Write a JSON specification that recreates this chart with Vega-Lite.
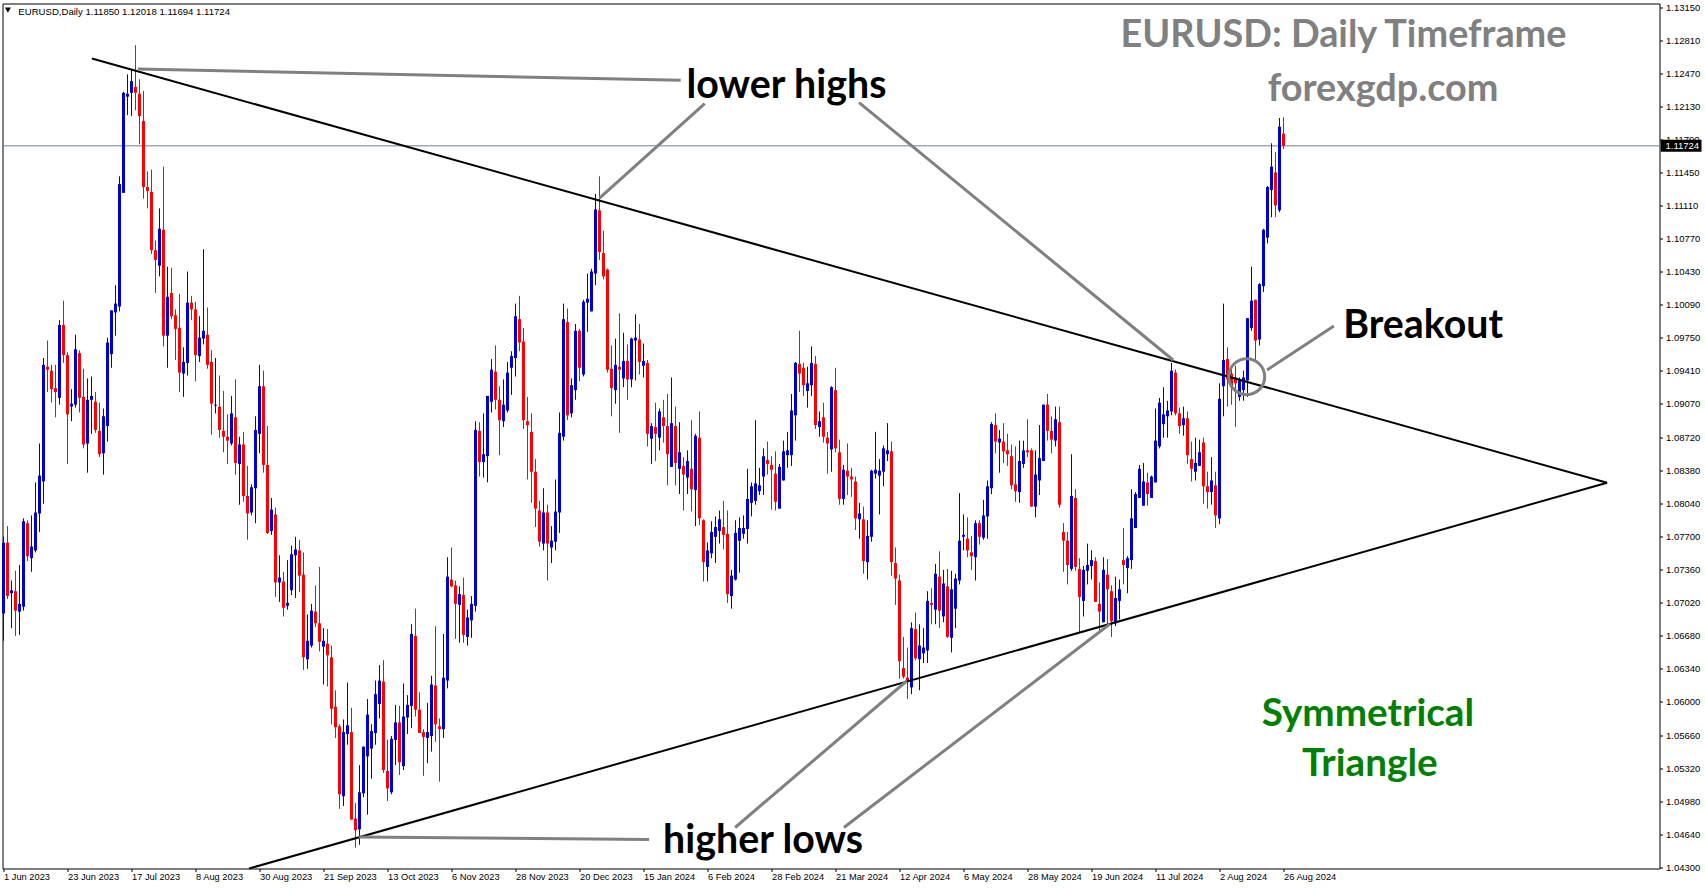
{
"$schema":"https://vega.github.io/schema/vega-lite/v6.json",
"width":1657,"height":865,"autosize":{"type":"none"},
"padding":{"left":2.5,"top":3.5,"right":46,"bottom":19},
"background":"white",
"config":{"view":{"stroke":"#000","strokeWidth":1}},
"datasets":{
"candles":[
{"i":0,"o":1.0691,"h":1.0770,"l":1.0663,"c":1.0764},{"i":1,"o":1.0764,"h":1.0781,"l":1.0706,"c":1.0709},{"i":2,"o":1.0712,"h":1.0725,"l":1.0676,"c":1.0715},{"i":3,"o":1.0714,"h":1.0735,"l":1.0668,"c":1.0694},{"i":4,"o":1.0693,"h":1.0741,"l":1.0669,"c":1.0701},{"i":5,"o":1.0698,"h":1.0789,"l":1.0694,"c":1.0786},{"i":6,"o":1.0784,"h":1.0787,"l":1.0745,"c":1.0750},{"i":7,"o":1.0748,"h":1.0792,"l":1.0734,"c":1.0760},{"i":8,"o":1.0756,"h":1.0826,"l":1.0754,"c":1.0795},{"i":9,"o":1.0794,"h":1.0866,"l":1.0775,"c":1.0833},
{"i":10,"o":1.0827,"h":1.0954,"l":1.0804,"c":1.0947},{"i":11,"o":1.0945,"h":1.0972,"l":1.0919,"c":1.0942},{"i":12,"o":1.0941,"h":1.0947,"l":1.0908,"c":1.0922},{"i":13,"o":1.0923,"h":1.0947,"l":1.0893,"c":1.0919},{"i":14,"o":1.0913,"h":1.0993,"l":1.0906,"c":1.0988},{"i":15,"o":1.0988,"h":1.1013,"l":1.0949,"c":1.0957},{"i":16,"o":1.0957,"h":1.0960,"l":1.0845,"c":1.0896},{"i":17,"o":1.0904,"h":1.0922,"l":1.0889,"c":1.0907},{"i":18,"o":1.0906,"h":1.0978,"l":1.0903,"c":1.0963},{"i":19,"o":1.0959,"h":1.0962,"l":1.0898,"c":1.0913},
{"i":20,"o":1.0914,"h":1.0943,"l":1.0861,"c":1.0865},{"i":21,"o":1.0866,"h":1.0933,"l":1.0836,"c":1.0911},{"i":22,"o":1.0911,"h":1.0935,"l":1.0876,"c":1.0915},{"i":23,"o":1.0909,"h":1.0919,"l":1.0877,"c":1.0880},{"i":24,"o":1.0879,"h":1.0908,"l":1.0852,"c":1.0855},{"i":25,"o":1.0856,"h":1.0902,"l":1.0834,"c":1.0894},{"i":26,"o":1.0884,"h":1.0975,"l":1.0868,"c":1.0970},{"i":27,"o":1.0958,"h":1.1003,"l":1.0944,"c":1.1003},{"i":28,"o":1.1001,"h":1.1029,"l":1.0977,"c":1.1010},{"i":29,"o":1.1007,"h":1.1141,"l":1.1002,"c":1.1133},
{"i":30,"o":1.1124,"h":1.1228,"l":1.1124,"c":1.1227},{"i":31,"o":1.1223,"h":1.1246,"l":1.1204,"c":1.1226},{"i":32,"o":1.1227,"h":1.1251,"l":1.1203,"c":1.1239},{"i":33,"o":1.1233,"h":1.1276,"l":1.1209,"c":1.1227},{"i":34,"o":1.1226,"h":1.1241,"l":1.1174,"c":1.1203},{"i":35,"o":1.1198,"h":1.1229,"l":1.1118,"c":1.1130},{"i":36,"o":1.1130,"h":1.1146,"l":1.1108,"c":1.1126},{"i":37,"o":1.1125,"h":1.1148,"l":1.1061,"c":1.1065},{"i":38,"o":1.1065,"h":1.1075,"l":1.1021,"c":1.1055},{"i":39,"o":1.1049,"h":1.1108,"l":1.1038,"c":1.1087},
{"i":40,"o":1.1086,"h":1.1151,"l":1.0966,"c":1.0977},{"i":41,"o":1.0977,"h":1.1048,"l":1.0944,"c":1.1017},{"i":42,"o":1.1021,"h":1.1047,"l":1.0994,"c":1.0997},{"i":43,"o":1.0998,"h":1.1004,"l":1.0952,"c":1.0984},{"i":44,"o":1.0985,"h":1.1020,"l":1.0919,"c":1.0939},{"i":45,"o":1.0938,"h":1.0965,"l":1.0914,"c":1.0950},{"i":46,"o":1.0949,"h":1.1043,"l":1.0936,"c":1.1011},{"i":47,"o":1.1011,"h":1.1018,"l":1.0993,"c":1.1004},{"i":48,"o":1.1004,"h":1.1012,"l":1.0930,"c":1.0957},{"i":49,"o":1.0956,"h":1.0997,"l":1.0950,"c":1.0975},
{"i":50,"o":1.0974,"h":1.1066,"l":1.0968,"c":1.0982},{"i":51,"o":1.0978,"h":1.1006,"l":1.0943,"c":1.0947},{"i":52,"o":1.0950,"h":1.0962,"l":1.0875,"c":1.0907},{"i":53,"o":1.0905,"h":1.0954,"l":1.0897,"c":1.0906},{"i":54,"o":1.0904,"h":1.0936,"l":1.0872,"c":1.0880},{"i":55,"o":1.0879,"h":1.0920,"l":1.0857,"c":1.0873},{"i":56,"o":1.0873,"h":1.0896,"l":1.0845,"c":1.0869},{"i":57,"o":1.0866,"h":1.0915,"l":1.0864,"c":1.0897},{"i":58,"o":1.0893,"h":1.0932,"l":1.0834,"c":1.0846},{"i":59,"o":1.0845,"h":1.0873,"l":1.0803,"c":1.0865},
{"i":60,"o":1.0865,"h":1.0878,"l":1.0806,"c":1.0812},{"i":61,"o":1.0812,"h":1.0843,"l":1.0767,"c":1.0794},{"i":62,"o":1.0795,"h":1.0824,"l":1.0792,"c":1.0821},{"i":63,"o":1.0820,"h":1.0894,"l":1.0784,"c":1.0880},{"i":64,"o":1.0876,"h":1.0947,"l":1.0856,"c":1.0925},{"i":65,"o":1.0925,"h":1.0941,"l":1.0836,"c":1.0844},{"i":66,"o":1.0844,"h":1.0884,"l":1.0773,"c":1.0774},{"i":67,"o":1.0776,"h":1.0810,"l":1.0772,"c":1.0798},{"i":68,"o":1.0793,"h":1.0800,"l":1.0708,"c":1.0723},{"i":69,"o":1.0723,"h":1.0751,"l":1.0703,"c":1.0728},
{"i":70,"o":1.0724,"h":1.0734,"l":1.0688,"c":1.0697},{"i":71,"o":1.0699,"h":1.0746,"l":1.0695,"c":1.0702},{"i":72,"o":1.0715,"h":1.0761,"l":1.0710,"c":1.0752},{"i":73,"o":1.0751,"h":1.0770,"l":1.0707,"c":1.0757},{"i":74,"o":1.0756,"h":1.0767,"l":1.0713,"c":1.0730},{"i":75,"o":1.0731,"h":1.0754,"l":1.0633,"c":1.0646},{"i":76,"o":1.0644,"h":1.0690,"l":1.0634,"c":1.0663},{"i":77,"o":1.0658,"h":1.0701,"l":1.0656,"c":1.0694},{"i":78,"o":1.0693,"h":1.0720,"l":1.0677,"c":1.0681},{"i":79,"o":1.0681,"h":1.0739,"l":1.0652,"c":1.0662},
{"i":80,"o":1.0657,"h":1.0676,"l":1.0618,"c":1.0663},{"i":81,"o":1.0660,"h":1.0675,"l":1.0616,"c":1.0648},{"i":82,"o":1.0646,"h":1.0658,"l":1.0577,"c":1.0593},{"i":83,"o":1.0595,"h":1.0612,"l":1.0563,"c":1.0574},{"i":84,"o":1.0575,"h":1.0577,"l":1.0490,"c":1.0505},{"i":85,"o":1.0503,"h":1.0582,"l":1.0493,"c":1.0569},{"i":86,"o":1.0567,"h":1.0620,"l":1.0556,"c":1.0576},{"i":87,"o":1.0569,"h":1.0594,"l":1.0479,"c":1.0479},{"i":88,"o":1.0480,"h":1.0496,"l":1.0450,"c":1.0468},{"i":89,"o":1.0469,"h":1.0535,"l":1.0453,"c":1.0507},
{"i":90,"o":1.0506,"h":1.0554,"l":1.0502,"c":1.0554},{"i":91,"o":1.0544,"h":1.0603,"l":1.0484,"c":1.0587},{"i":92,"o":1.0552,"h":1.0577,"l":1.0521,"c":1.0570},{"i":93,"o":1.0568,"h":1.0622,"l":1.0556,"c":1.0608},{"i":94,"o":1.0598,"h":1.0638,"l":1.0583,"c":1.0622},{"i":95,"o":1.0621,"h":1.0643,"l":1.0527,"c":1.0530},{"i":96,"o":1.0529,"h":1.0561,"l":1.0498,"c":1.0511},{"i":97,"o":1.0507,"h":1.0565,"l":1.0505,"c":1.0562},{"i":98,"o":1.0561,"h":1.0597,"l":1.0535,"c":1.0579},{"i":99,"o":1.0579,"h":1.0596,"l":1.0525,"c":1.0538},
{"i":100,"o":1.0534,"h":1.0619,"l":1.0530,"c":1.0585},{"i":101,"o":1.0584,"h":1.0607,"l":1.0567,"c":1.0597},{"i":102,"o":1.0596,"h":1.0680,"l":1.0573,"c":1.0670},{"i":103,"o":1.0668,"h":1.0696,"l":1.0585,"c":1.0592},{"i":104,"o":1.0592,"h":1.0610,"l":1.0568,"c":1.0568},{"i":105,"o":1.0569,"h":1.0572,"l":1.0524,"c":1.0564},{"i":106,"o":1.0563,"h":1.0599,"l":1.0537,"c":1.0569},{"i":107,"o":1.0565,"h":1.0627,"l":1.0549,"c":1.0618},{"i":108,"o":1.0617,"h":1.0678,"l":1.0559,"c":1.0577},{"i":109,"o":1.0575,"h":1.0583,"l":1.0518,"c":1.0572},
{"i":110,"o":1.0572,"h":1.0670,"l":1.0563,"c":1.0625},{"i":111,"o":1.0622,"h":1.0749,"l":1.0614,"c":1.0729},{"i":112,"o":1.0726,"h":1.0759,"l":1.0718,"c":1.0719},{"i":113,"o":1.0720,"h":1.0725,"l":1.0665,"c":1.0701},{"i":114,"o":1.0700,"h":1.0719,"l":1.0661,"c":1.0711},{"i":115,"o":1.0710,"h":1.0728,"l":1.0661,"c":1.0669},{"i":116,"o":1.0667,"h":1.0695,"l":1.0658,"c":1.0687},{"i":117,"o":1.0684,"h":1.0709,"l":1.0666,"c":1.0701},{"i":118,"o":1.0699,"h":1.0889,"l":1.0693,"c":1.0880},{"i":119,"o":1.0879,"h":1.0888,"l":1.0832,"c":1.0847},
{"i":120,"o":1.0847,"h":1.0897,"l":1.0831,"c":1.0855},{"i":121,"o":1.0853,"h":1.0915,"l":1.0826,"c":1.0915},{"i":122,"o":1.0909,"h":1.0953,"l":1.0898,"c":1.0942},{"i":123,"o":1.0940,"h":1.0967,"l":1.0901,"c":1.0911},{"i":124,"o":1.0911,"h":1.0925,"l":1.0854,"c":1.0890},{"i":125,"o":1.0889,"h":1.0932,"l":1.0883,"c":1.0906},{"i":126,"o":1.0900,"h":1.0950,"l":1.0898,"c":1.0939},{"i":127,"o":1.0944,"h":1.0961,"l":1.0916,"c":1.0956},{"i":128,"o":1.0954,"h":1.1010,"l":1.0935,"c":1.0997},{"i":129,"o":1.0994,"h":1.1018,"l":1.0961,"c":1.0970},
{"i":130,"o":1.0971,"h":1.0985,"l":1.0881,"c":1.0890},{"i":131,"o":1.0889,"h":1.0914,"l":1.0829,"c":1.0885},{"i":132,"o":1.0878,"h":1.0897,"l":1.0805,"c":1.0837},{"i":133,"o":1.0837,"h":1.0850,"l":1.0780,"c":1.0799},{"i":134,"o":1.0797,"h":1.0807,"l":1.0760,"c":1.0765},{"i":135,"o":1.0763,"h":1.0820,"l":1.0756,"c":1.0795},{"i":136,"o":1.0795,"h":1.0803,"l":1.0725,"c":1.0763},{"i":137,"o":1.0759,"h":1.0781,"l":1.0743,"c":1.0766},{"i":138,"o":1.0765,"h":1.0829,"l":1.0756,"c":1.0796},{"i":139,"o":1.0795,"h":1.0898,"l":1.0774,"c":1.0877},
{"i":140,"o":1.0873,"h":1.1010,"l":1.0869,"c":1.0994},{"i":141,"o":1.0991,"h":1.1005,"l":1.0890,"c":1.0895},{"i":142,"o":1.0897,"h":1.0933,"l":1.0893,"c":1.0926},{"i":143,"o":1.0921,"h":1.0989,"l":1.0911,"c":1.0982},{"i":144,"o":1.0982,"h":1.0984,"l":1.0930,"c":1.0944},{"i":145,"o":1.0937,"h":1.1014,"l":1.0935,"c":1.1012},{"i":146,"o":1.1011,"h":1.1041,"l":1.0981,"c":1.1015},{"i":147,"o":1.1002,"h":1.1046,"l":1.1002,"c":1.1043},{"i":148,"o":1.1041,"h":1.1123,"l":1.1029,"c":1.1107},{"i":149,"o":1.1106,"h":1.1141,"l":1.1055,"c":1.1063},
{"i":150,"o":1.1062,"h":1.1085,"l":1.1035,"c":1.1038},{"i":151,"o":1.1045,"h":1.1046,"l":1.0939,"c":1.0942},{"i":152,"o":1.0943,"h":1.0967,"l":1.0894,"c":1.0923},{"i":153,"o":1.0921,"h":1.0974,"l":1.0907,"c":1.0947},{"i":154,"o":1.0945,"h":1.1000,"l":1.0877,"c":1.0942},{"i":155,"o":1.0933,"h":1.0980,"l":1.0924,"c":1.0951},{"i":156,"o":1.0951,"h":1.0968,"l":1.0911,"c":1.0932},{"i":157,"o":1.0932,"h":1.0975,"l":1.0924,"c":1.0974},{"i":158,"o":1.0972,"h":1.0999,"l":1.0931,"c":1.0975},{"i":159,"o":1.0973,"h":1.0989,"l":1.0937,"c":1.0950},
{"i":160,"o":1.0946,"h":1.0969,"l":1.0934,"c":1.0951},{"i":161,"o":1.0949,"h":1.0952,"l":1.0863,"c":1.0876},{"i":162,"o":1.0871,"h":1.0887,"l":1.0845,"c":1.0884},{"i":163,"o":1.0883,"h":1.0908,"l":1.0848,"c":1.0876},{"i":164,"o":1.0872,"h":1.0902,"l":1.0859,"c":1.0899},{"i":165,"o":1.0893,"h":1.0911,"l":1.0867,"c":1.0884},{"i":166,"o":1.0884,"h":1.0917,"l":1.0823,"c":1.0855},{"i":167,"o":1.0842,"h":1.0934,"l":1.0842,"c":1.0887},{"i":168,"o":1.0884,"h":1.0904,"l":1.0823,"c":1.0846},{"i":169,"o":1.0840,"h":1.0888,"l":1.0814,"c":1.0857},
{"i":170,"o":1.0843,"h":1.0852,"l":1.0797,"c":1.0834},{"i":171,"o":1.0831,"h":1.0859,"l":1.0814,"c":1.0848},{"i":172,"o":1.0840,"h":1.0890,"l":1.0796,"c":1.0819},{"i":173,"o":1.0818,"h":1.0876,"l":1.0781,"c":1.0874},{"i":174,"o":1.0872,"h":1.0899,"l":1.0782,"c":1.0789},{"i":175,"o":1.0787,"h":1.0788,"l":1.0724,"c":1.0744},{"i":176,"o":1.0739,"h":1.0764,"l":1.0724,"c":1.0756},{"i":177,"o":1.0753,"h":1.0786,"l":1.0748,"c":1.0775},{"i":178,"o":1.0770,"h":1.0791,"l":1.0743,"c":1.0780},{"i":179,"o":1.0776,"h":1.0797,"l":1.0763,"c":1.0788},
{"i":180,"o":1.0780,"h":1.0807,"l":1.0757,"c":1.0772},{"i":181,"o":1.0773,"h":1.0797,"l":1.0702,"c":1.0711},{"i":182,"o":1.0709,"h":1.0736,"l":1.0696,"c":1.0730},{"i":183,"o":1.0726,"h":1.0787,"l":1.0725,"c":1.0774},{"i":184,"o":1.0766,"h":1.0790,"l":1.0733,"c":1.0779},{"i":185,"o":1.0773,"h":1.0792,"l":1.0768,"c":1.0779},{"i":186,"o":1.0778,"h":1.0840,"l":1.0763,"c":1.0809},{"i":187,"o":1.0805,"h":1.0826,"l":1.0791,"c":1.0822},{"i":188,"o":1.0807,"h":1.0890,"l":1.0803,"c":1.0825},{"i":189,"o":1.0817,"h":1.0841,"l":1.0813,"c":1.0823},
{"i":190,"o":1.0832,"h":1.0861,"l":1.0813,"c":1.0853},{"i":191,"o":1.0849,"h":1.0868,"l":1.0834,"c":1.0845},{"i":192,"o":1.0844,"h":1.0853,"l":1.0798,"c":1.0839},{"i":193,"o":1.0835,"h":1.0858,"l":1.0797,"c":1.0806},{"i":194,"o":1.0799,"h":1.0845,"l":1.0799,"c":1.0842},{"i":195,"o":1.0828,"h":1.0869,"l":1.0828,"c":1.0858},{"i":196,"o":1.0854,"h":1.0878,"l":1.0841,"c":1.0859},{"i":197,"o":1.0854,"h":1.0917,"l":1.0843,"c":1.0900},{"i":198,"o":1.0895,"h":1.0950,"l":1.0869,"c":1.0949},{"i":199,"o":1.0948,"h":1.0982,"l":1.0919,"c":1.0938},
{"i":200,"o":1.0944,"h":1.0949,"l":1.0915,"c":1.0926},{"i":201,"o":1.0920,"h":1.0945,"l":1.0903,"c":1.0928},{"i":202,"o":1.0926,"h":1.0966,"l":1.0915,"c":1.0949},{"i":203,"o":1.0948,"h":1.0956,"l":1.0881,"c":1.0885},{"i":204,"o":1.0883,"h":1.0899,"l":1.0873,"c":1.0889},{"i":205,"o":1.0893,"h":1.0908,"l":1.0867,"c":1.0873},{"i":206,"o":1.0872,"h":1.0878,"l":1.0835,"c":1.0866},{"i":207,"o":1.0860,"h":1.0925,"l":1.0837,"c":1.0924},{"i":208,"o":1.0921,"h":1.0944,"l":1.0857,"c":1.0861},{"i":209,"o":1.0857,"h":1.0870,"l":1.0803,"c":1.0809},
{"i":210,"o":1.0809,"h":1.0844,"l":1.0803,"c":1.0839},{"i":211,"o":1.0838,"h":1.0866,"l":1.0813,"c":1.0832},{"i":212,"o":1.0832,"h":1.0841,"l":1.0811,"c":1.0829},{"i":213,"o":1.0827,"h":1.0832,"l":1.0777,"c":1.0789},{"i":214,"o":1.0788,"h":1.0805,"l":1.0768,"c":1.0794},{"i":215,"o":1.0788,"h":1.0801,"l":1.0732,"c":1.0745},{"i":216,"o":1.0744,"h":1.0787,"l":1.0726,"c":1.0771},{"i":217,"o":1.0770,"h":1.0839,"l":1.0765,"c":1.0838},{"i":218,"o":1.0835,"h":1.0878,"l":1.0830,"c":1.0839},{"i":219,"o":1.0833,"h":1.0850,"l":1.0793,"c":1.0838},
{"i":220,"o":1.0837,"h":1.0864,"l":1.0822,"c":1.0861},{"i":221,"o":1.0855,"h":1.0887,"l":1.0848,"c":1.0859},{"i":222,"o":1.0858,"h":1.0868,"l":1.0730,"c":1.0744},{"i":223,"o":1.0743,"h":1.0759,"l":1.0700,"c":1.0727},{"i":224,"o":1.0725,"h":1.0731,"l":1.0624,"c":1.0642},{"i":225,"o":1.0635,"h":1.0667,"l":1.0624,"c":1.0626},{"i":226,"o":1.0625,"h":1.0656,"l":1.0603,"c":1.0622},{"i":227,"o":1.0615,"h":1.0682,"l":1.0608,"c":1.0676},{"i":228,"o":1.0675,"h":1.0692,"l":1.0643,"c":1.0645},{"i":229,"o":1.0644,"h":1.0680,"l":1.0612,"c":1.0658},
{"i":230,"o":1.0650,"h":1.0676,"l":1.0640,"c":1.0656},{"i":231,"o":1.0653,"h":1.0714,"l":1.0640,"c":1.0704},{"i":232,"o":1.0702,"h":1.0717,"l":1.0680,"c":1.0700},{"i":233,"o":1.0695,"h":1.0742,"l":1.0680,"c":1.0732},{"i":234,"o":1.0729,"h":1.0755,"l":1.0676,"c":1.0694},{"i":235,"o":1.0688,"h":1.0736,"l":1.0682,"c":1.0722},{"i":236,"o":1.0719,"h":1.0737,"l":1.0666,"c":1.0667},{"i":237,"o":1.0666,"h":1.0735,"l":1.0651,"c":1.0716},{"i":238,"o":1.0696,"h":1.0732,"l":1.0676,"c":1.0727},{"i":239,"o":1.0725,"h":1.0815,"l":1.0721,"c":1.0766},
{"i":240,"o":1.0770,"h":1.0793,"l":1.0756,"c":1.0772},{"i":241,"o":1.0768,"h":1.0790,"l":1.0749,"c":1.0756},{"i":242,"o":1.0754,"h":1.0771,"l":1.0736,"c":1.0750},{"i":243,"o":1.0749,"h":1.0787,"l":1.0725,"c":1.0784},{"i":244,"o":1.0784,"h":1.0787,"l":1.0762,"c":1.0770},{"i":245,"o":1.0769,"h":1.0808,"l":1.0767,"c":1.0792},{"i":246,"o":1.0791,"h":1.0828,"l":1.0768,"c":1.0822},{"i":247,"o":1.0820,"h":1.0888,"l":1.0814,"c":1.0886},{"i":248,"o":1.0885,"h":1.0897,"l":1.0856,"c":1.0868},{"i":249,"o":1.0867,"h":1.0880,"l":1.0836,"c":1.0871},
{"i":250,"o":1.0868,"h":1.0887,"l":1.0846,"c":1.0858},{"i":251,"o":1.0859,"h":1.0876,"l":1.0843,"c":1.0855},{"i":252,"o":1.0853,"h":1.0865,"l":1.0819,"c":1.0823},{"i":253,"o":1.0824,"h":1.0863,"l":1.0806,"c":1.0817},{"i":254,"o":1.0816,"h":1.0869,"l":1.0805,"c":1.0848},{"i":255,"o":1.0845,"h":1.0869,"l":1.0841,"c":1.0859},{"i":256,"o":1.0859,"h":1.0891,"l":1.0852,"c":1.0857},{"i":257,"o":1.0859,"h":1.0861,"l":1.0801,"c":1.0801},{"i":258,"o":1.0801,"h":1.0859,"l":1.0790,"c":1.0834},{"i":259,"o":1.0828,"h":1.0885,"l":1.0813,"c":1.0851},
{"i":260,"o":1.0848,"h":1.0906,"l":1.0848,"c":1.0906},{"i":261,"o":1.0906,"h":1.0917,"l":1.0869,"c":1.0879},{"i":262,"o":1.0879,"h":1.0894,"l":1.0856,"c":1.0870},{"i":263,"o":1.0869,"h":1.0904,"l":1.0863,"c":1.0891},{"i":264,"o":1.0888,"h":1.0904,"l":1.0800,"c":1.0803},{"i":265,"o":1.0775,"h":1.0784,"l":1.0734,"c":1.0766},{"i":266,"o":1.0766,"h":1.0775,"l":1.0721,"c":1.0741},{"i":267,"o":1.0737,"h":1.0855,"l":1.0735,"c":1.0812},{"i":268,"o":1.0810,"h":1.0819,"l":1.0735,"c":1.0739},{"i":269,"o":1.0737,"h":1.0748,"l":1.0672,"c":1.0708},
{"i":270,"o":1.0704,"h":1.0740,"l":1.0688,"c":1.0736},{"i":271,"o":1.0735,"h":1.0763,"l":1.0721,"c":1.0741},{"i":272,"o":1.0740,"h":1.0756,"l":1.0726,"c":1.0746},{"i":273,"o":1.0745,"h":1.0749,"l":1.0703,"c":1.0703},{"i":274,"o":1.0701,"h":1.0723,"l":1.0674,"c":1.0693},{"i":275,"o":1.0682,"h":1.0749,"l":1.0682,"c":1.0736},{"i":276,"o":1.0731,"h":1.0747,"l":1.0678,"c":1.0716},{"i":277,"o":1.0714,"h":1.0720,"l":1.0667,"c":1.0683},{"i":278,"o":1.0681,"h":1.0729,"l":1.0678,"c":1.0707},{"i":279,"o":1.0704,"h":1.0726,"l":1.0685,"c":1.0716},
{"i":280,"o":1.0746,"h":1.0779,"l":1.0721,"c":1.0741},{"i":281,"o":1.0738,"h":1.0750,"l":1.0712,"c":1.0748},{"i":282,"o":1.0746,"h":1.0819,"l":1.0737,"c":1.0789},{"i":283,"o":1.0779,"h":1.0816,"l":1.0779,"c":1.0814},{"i":284,"o":1.0810,"h":1.0844,"l":1.0810,"c":1.0840},{"i":285,"o":1.0802,"h":1.0846,"l":1.0802,"c":1.0827},{"i":286,"o":1.0826,"h":1.0836,"l":1.0802,"c":1.0814},{"i":287,"o":1.0810,"h":1.0833,"l":1.0810,"c":1.0832},{"i":288,"o":1.0826,"h":1.0902,"l":1.0826,"c":1.0869},{"i":289,"o":1.0863,"h":1.0913,"l":1.0861,"c":1.0908},
{"i":290,"o":1.0886,"h":1.0924,"l":1.0872,"c":1.0896},{"i":291,"o":1.0894,"h":1.0910,"l":1.0872,"c":1.0900},{"i":292,"o":1.0899,"h":1.0949,"l":1.0895,"c":1.0941},{"i":293,"o":1.0939,"h":1.0942,"l":1.0895,"c":1.0897},{"i":294,"o":1.0897,"h":1.0903,"l":1.0876,"c":1.0884},{"i":295,"o":1.0885,"h":1.0904,"l":1.0874,"c":1.0892},{"i":296,"o":1.0892,"h":1.0899,"l":1.0845,"c":1.0854},{"i":297,"o":1.0850,"h":1.0868,"l":1.0827,"c":1.0840},{"i":298,"o":1.0837,"h":1.0872,"l":1.0828,"c":1.0846},{"i":299,"o":1.0843,"h":1.0870,"l":1.0843,"c":1.0857},
{"i":300,"o":1.0867,"h":1.0872,"l":1.0804,"c":1.0822},{"i":301,"o":1.0822,"h":1.0837,"l":1.0799,"c":1.0816},{"i":302,"o":1.0816,"h":1.0852,"l":1.0803,"c":1.0828},{"i":303,"o":1.0823,"h":1.0837,"l":1.0779,"c":1.0792},{"i":304,"o":1.0789,"h":1.0928,"l":1.0783,"c":1.0912},{"i":305,"o":1.0925,"h":1.1010,"l":1.0894,"c":1.0952},{"i":306,"o":1.0953,"h":1.0965,"l":1.0904,"c":1.0932},{"i":307,"o":1.0938,"h":1.0944,"l":1.0906,"c":1.0924},{"i":308,"o":1.0934,"h":1.0946,"l":1.0883,"c":1.0928},{"i":309,"o":1.0914,"h":1.0934,"l":1.0910,"c":1.0931},
{"i":310,"o":1.0921,"h":1.0941,"l":1.0910,"c":1.0934},{"i":311,"o":1.0931,"h":1.0995,"l":1.0914,"c":1.0995},{"i":312,"o":1.0985,"h":1.1048,"l":1.0982,"c":1.1013},{"i":313,"o":1.1014,"h":1.1014,"l":1.0951,"c":1.0972},{"i":314,"o":1.0973,"h":1.1031,"l":1.0967,"c":1.1030},{"i":315,"o":1.1028,"h":1.1087,"l":1.1022,"c":1.1086},{"i":316,"o":1.1078,"h":1.1131,"l":1.1072,"c":1.1130},{"i":317,"o":1.1127,"h":1.1175,"l":1.1099,"c":1.1151},{"i":318,"o":1.1145,"h":1.1166,"l":1.1099,"c":1.1111},{"i":319,"o":1.1106,"h":1.1201,"l":1.1104,"c":1.1192},
{"i":320,"o":1.1185,"h":1.12018,"l":1.11694,"c":1.11724}
],
"trend":[
{"line":"upper","i":22.1,"p":1.12623},{"line":"upper","i":400.9,"p":1.08257},
{"line":"lower","i":61.4,"p":1.04286},{"line":"lower","i":400.9,"p":1.08257}
],
"pointers":[
{"line":"a","i":33.6,"p":1.12515},{"line":"a","i":169.3,"p":1.12399},
{"line":"b","i":149,"p":1.11187},{"line":"b","i":175.3,"p":1.12158},
{"line":"c","i":213.9,"p":1.12168},{"line":"c","i":292.4,"p":1.0952},
{"line":"d","i":315.9,"p":1.09417},{"line":"d","i":332.6,"p":1.0987},
{"line":"e","i":88.9,"p":1.0461},{"line":"e","i":161.4,"p":1.04584},
{"line":"f","i":225.8,"p":1.06216},{"line":"f","i":182.9,"p":1.04708},
{"line":"g","i":276.6,"p":1.06803},{"line":"g","i":210.1,"p":1.04708}
],
"blackText":[{"t":"lower highs","i":195.75,"p":1.12217},{"t":"Breakout","i":354.9,"p":1.09747},{"t":"higher lows","i":189.9,"p":1.04446}],
"grayText":[{"t":"EURUSD: Daily Timeframe","i":335,"p":1.12742},{"t":"forexgdp.com","i":344.9,"p":1.12186}],
"greenText":[{"t":"Symmetrical","i":341.1,"p":1.05753},{"t":"Triangle","i":341.6,"p":1.05239}]
},
"encoding":{
"x":{"field":"i","type":"quantitative","title":null,
"scale":{"domain":[-0.25,414],"nice":false,"zero":false,"padding":0},
"axis":{"orient":"bottom","grid":false,"domain":false,"values":[0,16,32,48,64,80,96,112,128,144,160,176,192,208,224,240,256,272,288,304,320],
"labelExpr":"['1 Jun 2023','23 Jun 2023','17 Jul 2023','8 Aug 2023','30 Aug 2023','21 Sep 2023','13 Oct 2023','6 Nov 2023','28 Nov 2023','20 Dec 2023','15 Jan 2024','6 Feb 2024','28 Feb 2024','21 Mar 2024','12 Apr 2024','6 May 2024','28 May 2024','19 Jun 2024','11 Jul 2024','2 Aug 2024','26 Aug 2024'][datum.value/16]",
"labelAlign":"left","labelPadding":1,"labelOverlap":false,"labelBound":false,"labelFlush":false,"tickSize":3,"tickColor":"#000","labelColor":"#000","labelFont":"Liberation Sans","labelFontSize":9.3,"labelAngle":0}},
"y":{"field":"p","type":"quantitative","title":null,
"scale":{"domain":[1.04286,1.13189],"nice":false,"zero":false},
"axis":{"orient":"right","grid":false,"domain":false,"values":[1.1315,1.1281,1.1247,1.1213,1.1179,1.1145,1.1111,1.1077,1.1043,1.1009,1.0975,1.0941,1.0907,1.0872,1.0838,1.0804,1.077,1.0736,1.0702,1.0668,1.0634,1.06,1.0566,1.0532,1.0498,1.0464,1.043],
"format":".5f","tickSize":3,"tickColor":"#000","labelColor":"#000","labelFont":"Liberation Sans","labelFontSize":9.5,"labelPadding":3,"labelOverlap":false,"labelBound":false,"labelFlush":false}}
},
"layer":[
{"data":{"values":[{"p":1.11724,"i":-0.25,"i2":414}]},"mark":{"type":"rule","color":"#708090","strokeWidth":1},"encoding":{"x2":{"field":"i2"}}},
{"data":{"name":"candles"},"mark":{"type":"rule","strokeWidth":1},
"encoding":{"y":{"field":"l","type":"quantitative"},"y2":{"field":"h"},"color":{"condition":{"test":"datum.c>=datum.o","value":"#0000cd"},"value":"#ff0000"}}},
{"data":{"name":"candles"},"mark":{"type":"bar","size":3,"orient":"vertical"},
"encoding":{"y":{"field":"o","type":"quantitative"},"y2":{"field":"c"},"color":{"condition":{"test":"datum.c>=datum.o","value":"#0000cd"},"value":"#ff0000"}}},
{"data":{"name":"trend"},"mark":{"type":"line","color":"#000","strokeWidth":2},"encoding":{"detail":{"field":"line"},"order":{"field":"i"}}},
{"data":{"name":"pointers"},"mark":{"type":"line","color":"#808080","strokeWidth":3},"encoding":{"detail":{"field":"line"},"order":{"field":"i"}}},
{"data":{"values":[{"i":310.8,"p":1.09348}]},"mark":{"type":"point","shape":"circle","filled":false,"color":"#808080","strokeWidth":3,"size":1296,"opacity":1}},
{"data":{"name":"blackText"},"mark":{"type":"text","font":"Lato","fontWeight":"bold","fontSize":39.3,"color":"#000","align":"center","baseline":"alphabetic"},"encoding":{"text":{"field":"t"}}},
{"data":{"name":"grayText"},"mark":{"type":"text","font":"Lato","fontWeight":"bold","fontSize":37.8,"color":"#808080","align":"center","baseline":"alphabetic"},"encoding":{"text":{"field":"t"}}},
{"data":{"name":"greenText"},"mark":{"type":"text","font":"Lato","fontWeight":"bold","fontSize":38.7,"color":"#008000","align":"center","baseline":"alphabetic"},"encoding":{"text":{"field":"t"}}},
{"data":{"values":[{"p":1.11724,"i":414.3,"i2":424.5}]},"mark":{"type":"rule","color":"#000","strokeWidth":12},"encoding":{"x2":{"field":"i2"}}},
{"data":{"values":[{"p":1.11724,"i":415.5,"t":"1.11724"}]},"mark":{"type":"text","font":"Liberation Sans","fontSize":9.5,"color":"#fff","align":"left","baseline":"middle"},"encoding":{"text":{"field":"t"}}},
{"data":{"values":[{"t":"EURUSD,Daily  1.11850 1.12018 1.11694 1.11724","i":3.7,"p":1.13071}]},"mark":{"type":"text","font":"Liberation Sans","fontSize":9.6,"color":"#000","align":"left","baseline":"alphabetic"},"encoding":{"text":{"field":"t"}}},
{"data":{"values":[{"i":1.1,"p":1.1312}]},"mark":{"type":"point","shape":"triangle-down","filled":true,"color":"#000","size":36,"opacity":1}}
]
}
